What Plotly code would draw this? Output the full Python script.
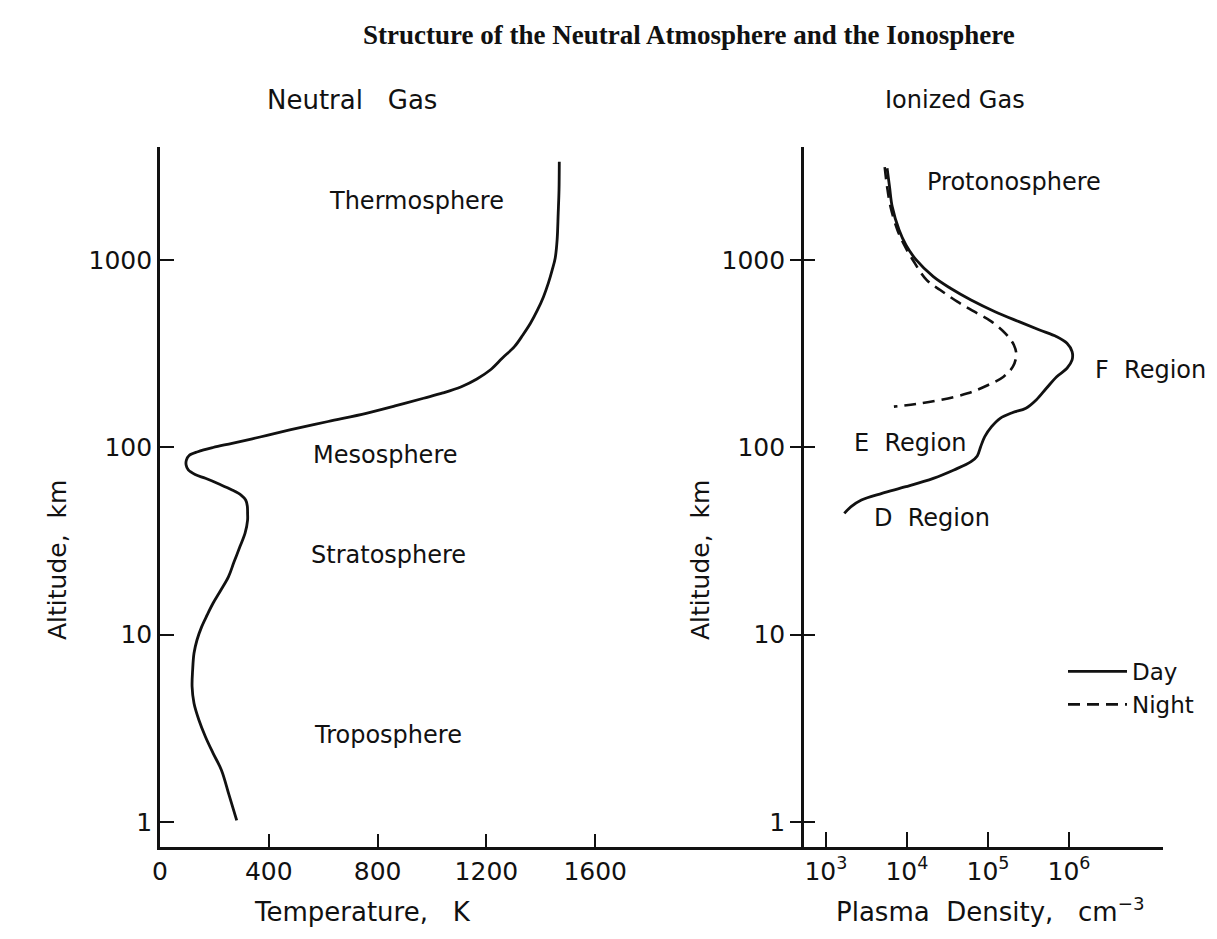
import math
import plotly.graph_objects as go

# ---------------- data ----------------
# Neutral gas: temperature profile (altitude km, temperature K)
temp_altitude_km = [3348, 2364, 1782, 1279, 1025, 884.6, 753.9, 637, 540.8, 459.2,
                    397.8, 344.5, 299.8, 258.6, 231.6, 210.6, 195.0, 182.7, 166.2, 151.9,
                    137.3, 123.7, 113.5, 105.0, 99.75, 94.7, 90.4, 85.5, 80.4, 75.7,
                    71.6, 68.3, 63.7, 59.2, 55.6, 52.3, 48.6, 44.4, 40.9, 34.9,
                    29.5, 24.4, 20.4, 17.3, 14.7, 12.7, 11.0, 9.36, 7.95, 6.47,
                    5.27, 4.30, 3.50, 2.85, 2.33, 1.89, 1.39, 1.02]
temperature_K = [1468, 1467, 1464, 1460, 1453, 1442, 1428, 1410, 1388, 1362,
                 1334, 1303, 1259, 1214, 1165, 1108, 1040, 969, 864, 758,
                 618, 477, 368, 265, 195, 139, 107, 97, 96, 104,
                 129, 167, 217, 265, 298, 315, 321, 322, 322, 313,
                 294, 272, 252, 224, 195, 173, 153, 136, 125, 120,
                 118, 125, 143, 167, 195, 226, 254, 282]

# Ionized gas: plasma density profiles (altitude km, density cm^-3)
day_altitude_km = [3088, 2463, 1926, 1446, 1203, 1000, 814.4, 706.3, 611.5, 529.7,
                   468.4, 422.9, 389.5, 359.3, 323.9, 292.5, 264.1, 238.2, 206.5, 178.9,
                   161.5, 153.0, 142.8, 128.8, 113.9, 100.7, 89.9, 83.8, 75.7, 68.3,
                   61.6, 56.8, 52.3, 48.2, 44.4]
day_density_cm3 = [5695, 6100, 6585, 8010, 9720, 13030, 21180, 34440, 61850, 122400,
                   241400, 433500, 704800, 944700, 1092000, 1092000, 944700, 704800, 526000, 393700,
                   293800, 199000, 141500, 110800, 91300, 81250, 73800, 61850, 38040, 21180,
                   9720, 4914, 2744, 2047, 1688]

night_altitude_km = [3126, 2463, 1926, 1446, 1203, 1000, 782.2, 691.6, 598.8, 529.7,
                     468.4, 406.1, 351.8, 311.1, 269.3, 238.2, 215.1, 194.2, 178.9, 170.3,
                     164.8]
night_density_cm3 = [5320, 5695, 6274, 7632, 9262, 11830, 17460, 25770, 41910, 68130,
                     110800, 163600, 208900, 223600, 203000, 155800, 100600, 56150, 25770, 13030,
                     6910]

alt_ticks = [1, 10, 100, 1000]
alt_tick_labels = ["1", "10", "100", "1000"]
temp_ticks = [0, 400, 800, 1200, 1600]
temp_tick_labels = ["0", "400", "800", "1200", "1600"]
dens_ticks = [1e3, 1e4, 1e5, 1e6]
dens_tick_labels = ["10<sup>3</sup>", "10<sup>4</sup>", "10<sup>5</sup>", "10<sup>6</sup>"]

# ---------------- layout geometry (screen px; page has an 8px body margin) ----------------
OFF = 8
W, H = 1217 - OFF, 939 - OFF
L, R, T, B = 160, 1163, 147, 847   # plot area in screen px
PW, PH = R - L, B - T
split = 804                          # screen px of right panel's y axis


def px(x):
    return (x - L) / PW


def py(y):
    return (B - y) / PH


FONT = "DejaVu Sans"
INK = "#111111"

fig = go.Figure()

fig.add_trace(go.Scatter(x=temperature_K, y=temp_altitude_km, mode="lines",
                         line=dict(color=INK, width=2.8, shape="spline", smoothing=1.0),
                         xaxis="x", yaxis="y", showlegend=False, hoverinfo="skip"))
fig.add_trace(go.Scatter(x=day_density_cm3, y=day_altitude_km, mode="lines", name="Day",
                         line=dict(color=INK, width=2.8, shape="spline", smoothing=1.0),
                         xaxis="x2", yaxis="y2"))
fig.add_trace(go.Scatter(x=night_density_cm3, y=night_altitude_km, mode="lines", name="Night",
                         line=dict(color=INK, width=2.6, shape="spline", smoothing=1.0,
                                   dash="12px,7px"),
                         xaxis="x2", yaxis="y2"))
# carrier for the outward half of the right axis' cross ticks
fig.add_trace(go.Scatter(x=[None], y=[None], xaxis="x2", yaxis="y3",
                         showlegend=False, hoverinfo="skip"))

y_range = [math.log10(0.735), 3.603]
split_frac = px(split)

axis_common = dict(showgrid=False, zeroline=False, showline=True, linecolor=INK,
                   linewidth=2.6, tickcolor=INK, tickwidth=2.4,
                   tickfont=dict(family=FONT, size=25, color=INK))

fig.update_layout(
    width=W, height=H,
    margin=dict(l=L - OFF, r=W - (R - OFF), t=T - OFF, b=H - (B - OFF), pad=0),
    paper_bgcolor="white", plot_bgcolor="white",
    xaxis=dict(domain=[0, split_frac], range=[0, (split - L) / 0.272],
               tickvals=temp_ticks, ticktext=temp_tick_labels,
               ticks="inside", ticklen=13, anchor="y", **axis_common),
    yaxis=dict(domain=[0, 1], type="log", range=y_range,
               tickvals=alt_ticks, ticktext=alt_tick_labels,
               ticks="inside", ticklen=14, anchor="x", **axis_common),
    xaxis2=dict(domain=[split_frac, 1], type="log", range=[2.73, 7.16],
                tickvals=dens_ticks, ticktext=dens_tick_labels,
                ticks="inside", ticklen=15, anchor="y2", **axis_common),
    yaxis2=dict(domain=[0, 1], type="log", range=y_range,
                tickvals=alt_ticks, ticktext=["", "", "", ""],
                ticks="inside", ticklen=11, anchor="x2", **axis_common),
    yaxis3=dict(domain=[0, 1], type="log", range=y_range, overlaying="y2",
                tickvals=alt_ticks, ticktext=alt_tick_labels,
                ticks="outside", ticklen=11, anchor="x2", side="left", **axis_common),
    legend=dict(x=px(1063), y=py(650), xanchor="left", yanchor="top",
                bgcolor="rgba(0,0,0,0)", font=dict(family=FONT, size=23, color=INK),
                tracegroupgap=0, itemwidth=59),
    showlegend=True,
)


def note(text, x, y, size=24, family=FONT, angle=0, xanchor="center"):
    fig.add_annotation(text=text, x=px(x), y=py(y), xref="paper", yref="paper",
                       showarrow=False, xanchor=xanchor, yanchor="middle",
                       textangle=angle, font=dict(family=family, size=size, color=INK))


note("<b>Structure of the Neutral Atmosphere and the Ionosphere</b>", 689, 35,
     size=27, family="Liberation Serif")
note("Neutral   Gas", 352, 100, size=26)
note("Ionized Gas", 955, 100, size=24)
note("Temperature,   K", 362, 912, size=26)
note("Plasma  Density,   cm<sup>−3</sup>", 990, 910, size=26)
note("Altitude,  km", 57, 560, size=25, angle=-90)
note("Altitude,  km", 700, 560, size=25, angle=-90)

note("Thermosphere", 416, 201)
note("Mesosphere", 385, 455)
note("Stratosphere", 388, 555)
note("Troposphere", 388, 735)
note("Protonosphere", 1014, 182)
note("F  Region", 1150, 370)
note("E  Region", 910, 443)
note("D  Region", 932, 518)

fig.write_html("out.html")
